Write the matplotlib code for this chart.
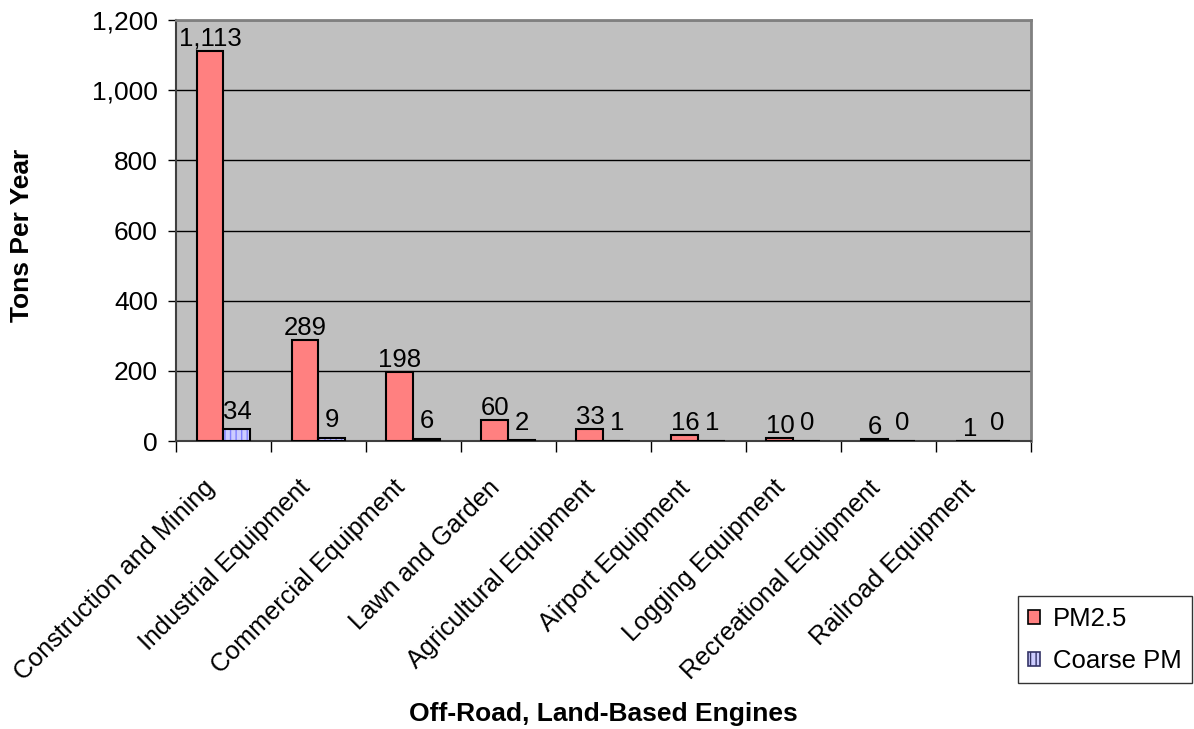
import matplotlib.pyplot as plt
import matplotlib.transforms as mtransforms
from matplotlib.patches import Patch
import numpy as np

plt.rcParams['font.family'] = ['Liberation Sans', 'DejaVu Sans']

categories = ['Construction and Mining', 'Industrial Equipment', 'Commercial Equipment',
              'Lawn and Garden', 'Agricultural Equipment', 'Airport Equipment',
              'Logging Equipment', 'Recreational Equipment', 'Railroad Equipment']
pm25 = [1113, 289, 198, 60, 33, 16, 10, 6, 1]
coarse = [34, 9, 6, 2, 1, 1, 0, 0, 0]
yticks = [0, 200, 400, 600, 800, 1000, 1200]

fig = plt.figure(figsize=(11.94, 7.29), dpi=100)
ax = fig.add_axes([0.1474, 0.395, 0.716, 0.5775])
ax.set_facecolor('#C0C0C0')

x = np.arange(len(categories))
w = 0.284

ax.bar(x - w / 2, pm25, w, color='#FF8080', edgecolor='black', linewidth=1.5, zorder=3)
# hatched fill first, then the black outline on top
ax.bar(x + w / 2, coarse, w, color='#CCCCFF', edgecolor='#8080FF', hatch='|||',
       linewidth=0, zorder=3)
ax.bar(x + w / 2, coarse, w, facecolor='none', edgecolor='black', linewidth=1.5, zorder=4)

for xi, v in zip(x, pm25):
    ax.annotate(f'{v:,}', (xi - w / 2, v), xytext=(0, 0), textcoords='offset points',
                ha='center', va='bottom', fontsize=18.5, zorder=5)
for xi, v in zip(x, coarse):
    ax.annotate(f'{v:,}', (xi + w / 2, v), xytext=(0, 4), textcoords='offset points',
                ha='center', va='bottom', fontsize=18.5, zorder=5)

ax.set_xlim(-0.5, len(categories) - 0.5)
ax.set_ylim(0, 1200)
ax.set_yticks(yticks)
ax.set_yticklabels([f'{t:,}' for t in yticks], fontsize=19)
ax.yaxis.grid(True, color='black', linewidth=1, zorder=1)
ax.set_axisbelow(True)

ax.set_xticks(x)
ax.set_xticklabels(categories, rotation=45, ha='right', va='center',
                   rotation_mode='anchor', fontsize=18.2)
ax.tick_params(axis='x', length=0, pad=31)
shift = mtransforms.ScaledTranslation(-12 / 100, 0, fig.dpi_scale_trans)
for lbl in ax.get_xticklabels():
    lbl.set_transform(lbl.get_transform() + shift)
ax.set_xticks(np.arange(-0.5, len(categories)), minor=True)
ax.tick_params(axis='x', which='minor', length=8, width=1, color='black', direction='out')
ax.tick_params(axis='y', length=6, width=1, direction='out', pad=7)

for side in ['top', 'right']:
    ax.spines[side].set_color('#808080')
    ax.spines[side].set_linewidth(2)
for side in ['left', 'bottom']:
    ax.spines[side].set_color('#404040')
    ax.spines[side].set_linewidth(1.5)

fig.text(22 / 1194, 1 - 235 / 729, 'Tons Per Year', fontsize=19, fontweight='bold',
         rotation=90, ha='center', va='center')
fig.text(603 / 1194, 1 - 714 / 729, 'Off-Road, Land-Based Engines', fontsize=19,
         fontweight='bold', ha='center', va='center')

handles = [Patch(facecolor='#FF8080', edgecolor='black', linewidth=1.2),
           Patch(facecolor='#CCCCFF', edgecolor='#333366', hatch='|||', linewidth=1.2)]
leg = fig.legend(handles, ['PM2.5', 'Coarse PM'], loc='lower right',
                 bbox_to_anchor=(1192 / 1194, 1 - 683 / 729), fontsize=18.5, frameon=True,
                 fancybox=False, edgecolor='black', handlelength=0.47, handleheight=0.47,
                 handletextpad=0.5, borderpad=0.4, labelspacing=0.7, borderaxespad=0)
leg.get_frame().set_linewidth(1)

fig.savefig('out.png', dpi=100)
